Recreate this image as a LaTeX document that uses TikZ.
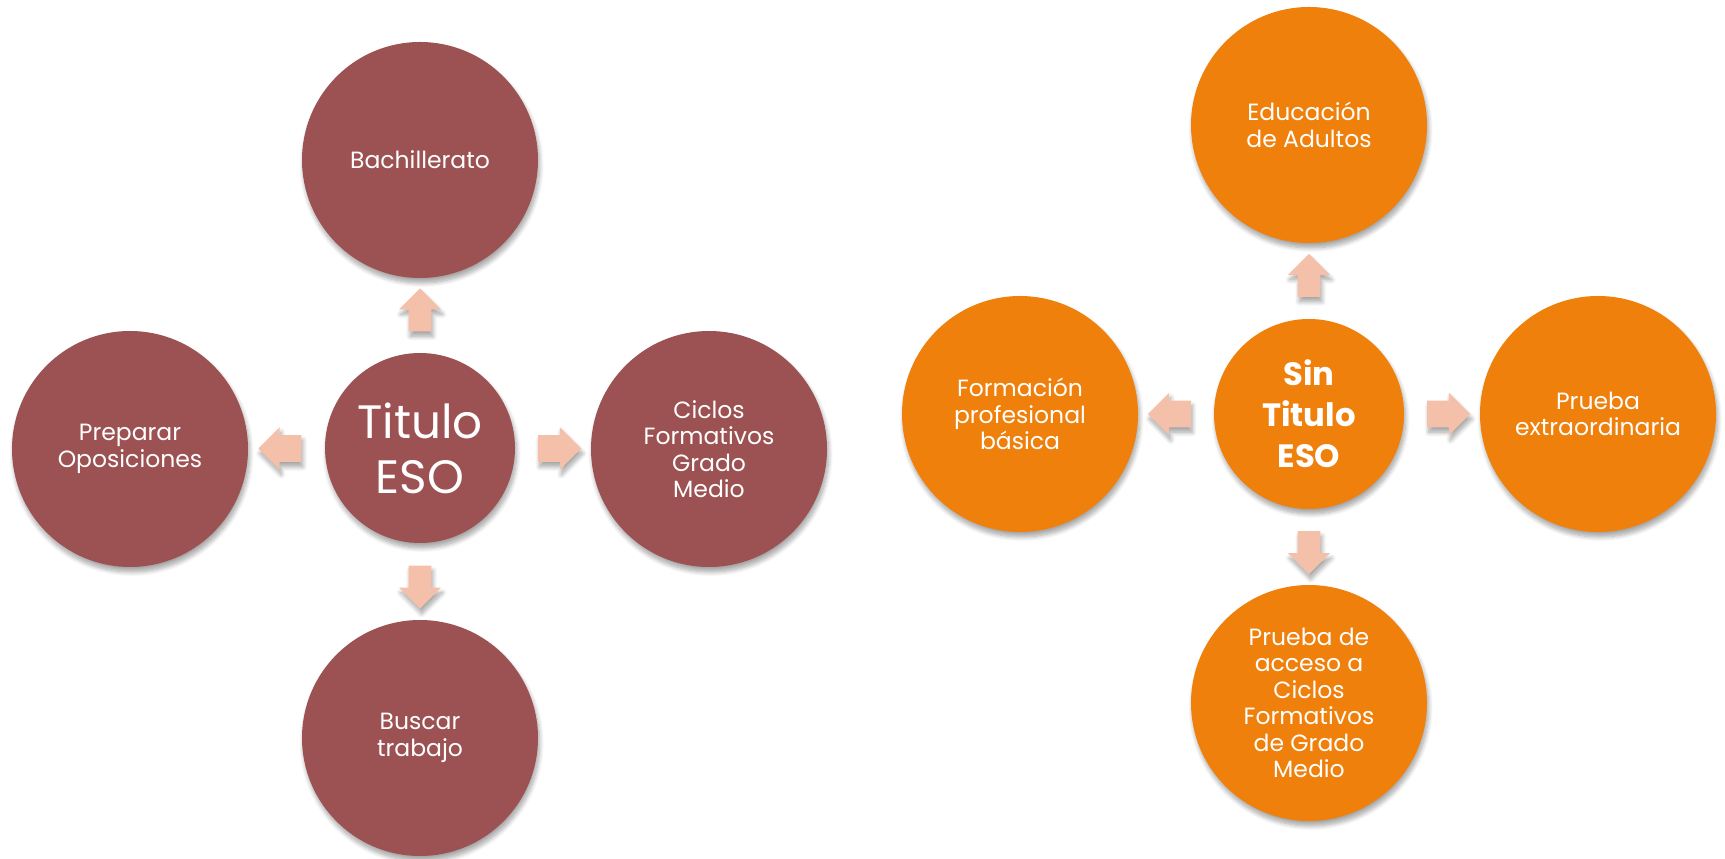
\documentclass[tikz,border=0pt]{standalone}
\usepackage{fontspec}
\setmainfont{Poppins}
\usepackage{tikz}
\usetikzlibrary{shapes.arrows,shadows.blur,calc}
\definecolor{vino}{HTML}{9C5252}
\definecolor{naranja}{HTML}{EF800C}
\definecolor{salmon}{HTML}{F5C0AA}

\begin{document}
\begin{tikzpicture}[
  sombra/.style={blur shadow={shadow xshift=0.8bp, shadow yshift=-2.5bp, shadow blur steps=8, shadow opacity=35}},
  circulo/.style={circle, inner sep=0pt, text=white, align=center, sombra},
  grande/.style={circulo, minimum size=118bp, font=\fontsize{11.8}{13.3}\selectfont},
  centro/.style={circulo, minimum size=95bp},
  flecha/.style={single arrow, fill=salmon, inner xsep=4.5bp, inner ysep=6.5bp, minimum width=21bp,
    minimum height=21.5bp, single arrow head extend=4bp, sombra},
]
\useasboundingbox (0bp,0bp) rectangle (862.5bp,429.5bp);
%% con titulo
\node (tit) at (210bp,205.5bp) [centro, fill=vino, font=\fontsize{23.5}{27.5}\selectfont] {Titulo\\ESO};
\node (bach) at (210bp,349.5bp) [grande, fill=vino] {Bachillerato};
\node (opos) at (65bp,205bp) [grande, fill=vino] {Preparar\\Oposiciones};
\node (cfgm) at (354.5bp,205bp) [grande, fill=vino] {Ciclos\\Formativos\\Grado\\Medio};
\node (trab) at (210bp,60.5bp) [grande, fill=vino] {Buscar\\trabajo};
\node (f1) at ($(tit.north)!0.5!(bach.south)$) [flecha, shape border rotate=90] {};
\node (f2) at ($(tit.west)!0.5!(opos.east)$) [flecha, shape border rotate=180] {};
\node (f3) at ($(tit.east)!0.5!(cfgm.west)$) [flecha] {};
\node (f4) at ($(tit.south)!0.5!(trab.north)$) [flecha, shape border rotate=270] {};
%% sin titulo
\node (sin) at (654.5bp,222.5bp) [centro, fill=naranja, font=\fontsize{16.2}{20.5}\selectfont\bfseries] {Sin\\Titulo\\ESO};
\node (adul) at (654.5bp,367bp) [grande, fill=naranja] {Educación\\de Adultos};
\node (fpb) at (510bp,222.5bp) [grande, fill=naranja] {Formación\\profesional\\básica};
\node (extra) at (799bp,222.5bp) [grande, fill=naranja] {Prueba\\extraordinaria};
\node (acc) at (654.5bp,78bp) [grande, fill=naranja] {Prueba de\\acceso a\\Ciclos\\Formativos\\de Grado\\Medio};
\node (g1) at ($(sin.north)!0.5!(adul.south)$) [flecha, shape border rotate=90] {};
\node (g2) at ($(sin.west)!0.5!(fpb.east)$) [flecha, shape border rotate=180] {};
\node (g3) at ($(sin.east)!0.5!(extra.west)$) [flecha] {};
\node (g4) at ($(sin.south)!0.5!(acc.north)$) [flecha, shape border rotate=270] {};
%
\end{tikzpicture}
\end{document}
